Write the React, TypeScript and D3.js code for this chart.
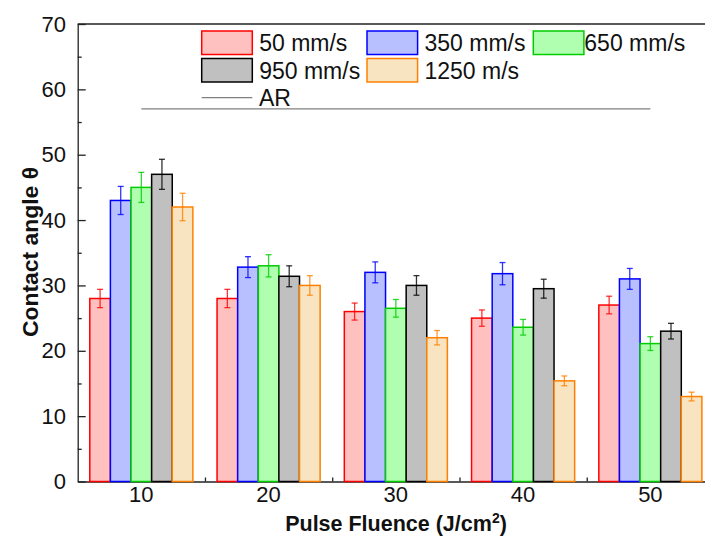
import React, { useRef, useEffect } from 'react';
import * as d3 from 'd3';

// Pulse fluence (J/cm2) categories
const fluences = [10, 20, 30, 40, 50];

const seriesNames = ['50 mm/s', '350 mm/s', '650 mm/s', '950 mm/s', '1250 m/s'];

// contact angle per scan speed, one value per fluence
const v50 = [28, 28, 26, 25, 27];
const v350 = [43, 32.8, 32, 31.8, 31];
const v650 = [45, 33, 26.5, 23.6, 21.1];
const v950 = [47, 31.4, 30, 29.5, 23];
const v1250 = [42, 30, 22, 15.4, 13];

const e50 = [1.4, 1.4, 1.3, 1.25, 1.35];
const e350 = [2.15, 1.6, 1.6, 1.7, 1.6];
const e650 = [2.3, 1.7, 1.35, 1.2, 1.05];
const e950 = [2.3, 1.6, 1.5, 1.45, 1.2];
const e1250 = [2.1, 1.5, 1.1, 0.75, 0.67];

const arValue = 57;

const yTicks = [0, 10, 20, 30, 40, 50, 60, 70];

const fills = ['#ffc0c0', '#b8c0ff', '#b0ffb0', '#c0c0c0', '#f8e4c0'];
const strokes = ['#ff0000', '#0000ff', '#00cc00', '#000000', '#ff8000'];

const App = () => {
  const svgRef = useRef(null);

  useEffect(() => {
    const width = 705;
    const height = 543;
    const svg = d3.select(svgRef.current);
    svg.selectAll('*').remove();
    svg.attr('width', width).attr('height', height).style('display', 'block').style('background', '#fff');

    const font = '"Liberation Sans", Arial, sans-serif';

    const x = d3.scaleLinear().domain([5, 55]).range([77.7, 714]);
    const y = d3.scaleLinear().domain([0, 70]).range([481.5, 24]);

    const values = [v50, v350, v650, v950, v1250];
    const errors = [e50, e350, e650, e950, e1250];
    const barW = 1.62; // in x units

    // bars
    values.forEach((vals, s) => {
      const g = svg.append('g');
      vals.forEach((v, i) => {
        const cx = fluences[i] + (s - 2) * barW;
        g.append('rect')
          .attr('x', x(cx - barW / 2))
          .attr('y', y(v))
          .attr('width', x(cx + barW / 2) - x(cx - barW / 2))
          .attr('height', y(0) - y(v))
          .attr('fill', fills[s])
          .attr('stroke', strokes[s])
          .attr('stroke-width', 1.5);
      });
    });

    // error bars
    values.forEach((vals, s) => {
      const g = svg.append('g').attr('stroke', strokes[s]).attr('stroke-width', 1.3).attr('stroke-opacity', 0.8);
      vals.forEach((v, i) => {
        const cx = x(fluences[i] + (s - 2) * barW);
        const top = y(v + errors[s][i]);
        const bot = y(v - errors[s][i]);
        g.append('line').attr('x1', cx).attr('x2', cx).attr('y1', top).attr('y2', bot);
        g.append('line').attr('x1', cx - 3).attr('x2', cx + 3).attr('y1', top).attr('y2', top);
        g.append('line').attr('x1', cx - 3).attr('x2', cx + 3).attr('y1', bot).attr('y2', bot);
      });
    });

    // AR reference line
    svg.append('line')
      .attr('x1', x(fluences[0])).attr('x2', x(fluences[fluences.length - 1]))
      .attr('y1', y(arValue)).attr('y2', y(arValue))
      .attr('stroke', '#808080').attr('stroke-width', 1.2);

    // frame: top line
    svg.append('line')
      .attr('x1', x(5)).attr('x2', x(55)).attr('y1', y(70)).attr('y2', y(70))
      .attr('stroke', '#222').attr('stroke-width', 1.3);

    // y axis (ticks inside)
    const yAxis = svg.append('g')
      .attr('transform', `translate(${x(5)},0)`)
      .call(d3.axisRight(y).tickValues(yTicks).tickSize(8).tickSizeOuter(0).tickFormat(() => ''));
    yAxis.select('.domain').attr('stroke', '#222').attr('stroke-width', 1.3);
    yAxis.selectAll('line').attr('stroke', '#222').attr('stroke-width', 1.3);
    svg.append('g')
      .attr('transform', `translate(${x(5)},0)`)
      .call(d3.axisRight(y).tickValues(d3.range(5, 70, 10)).tickSize(4).tickFormat(() => ''))
      .call(g => g.select('.domain').remove())
      .selectAll('line').attr('stroke', '#222').attr('stroke-width', 1.3);

    svg.append('g').selectAll('text').data(yTicks).join('text')
      .attr('x', 66).attr('y', d => y(d) + 7.7)
      .attr('text-anchor', 'end')
      .attr('font-family', font).attr('font-size', 22).attr('fill', '#111')
      .text(d => d);

    // x axis
    const xAxis = svg.append('g')
      .attr('transform', `translate(0,${y(0)})`)
      .call(d3.axisTop(x).tickValues(fluences).tickSize(8).tickSizeOuter(0).tickFormat(() => ''));
    xAxis.select('.domain').attr('stroke', '#222').attr('stroke-width', 1.3);
    xAxis.selectAll('line').attr('stroke', '#222').attr('stroke-width', 1.3);
    xAxis.lower();
    svg.append('g')
      .attr('transform', `translate(0,${y(0)})`)
      .call(d3.axisTop(x).tickValues([15, 25, 35, 45]).tickSize(4).tickFormat(() => ''))
      .call(g => g.select('.domain').remove())
      .selectAll('line').attr('stroke', '#222').attr('stroke-width', 1.3);

    svg.append('g').selectAll('text').data(fluences).join('text')
      .attr('x', d => x(d)).attr('y', 502)
      .attr('text-anchor', 'middle')
      .attr('font-family', font).attr('font-size', 22).attr('fill', '#111')
      .text(d => d);

    // axis titles
    const xt = svg.append('text')
      .attr('x', 396).attr('y', 531)
      .attr('text-anchor', 'middle')
      .attr('font-family', font).attr('font-size', 21.5).attr('font-weight', 'bold').attr('fill', '#111');
    xt.append('tspan').text('Pulse Fluence (J/cm');
    xt.append('tspan').attr('dy', -8).attr('font-size', 14).text('2');
    xt.append('tspan').attr('dy', 8).text(')');

    svg.append('text')
      .attr('transform', 'translate(38,252) rotate(-90)')
      .attr('text-anchor', 'middle')
      .attr('font-family', font).attr('font-size', 22).attr('font-weight', 'bold').attr('fill', '#111')
      .attr('textLength', 170).attr('lengthAdjust', 'spacingAndGlyphs')
      .text('Contact angle θ');

    // legend
    const legPos = [
      [201.7, 31], [367, 31], [533.3, 31],
      [201.7, 58.5], [367, 58.5],
    ];
    const leg = svg.append('g');
    seriesNames.forEach((name, s) => {
      const [lx, ly] = legPos[s];
      leg.append('rect')
        .attr('x', lx).attr('y', ly).attr('width', 50.6).attr('height', 23.5)
        .attr('fill', fills[s]).attr('stroke', strokes[s]).attr('stroke-width', 1.5);
      leg.append('text')
        .attr('x', s === 2 ? lx + 51 : lx + 57.5).attr('y', ly + 20)
        .attr('font-family', font).attr('font-size', 23).attr('fill', '#111')
        .text(name);
    });
    leg.append('line')
      .attr('x1', 201.7).attr('x2', 252.3).attr('y1', 97.7).attr('y2', 97.7)
      .attr('stroke', '#808080').attr('stroke-width', 1.2);
    leg.append('text')
      .attr('x', 259).attr('y', 105.5)
      .attr('font-family', font).attr('font-size', 23).attr('fill', '#111')
      .text('AR');
  }, []);

  return (
    <div style={{ position: 'absolute', left: 0, top: 0 }}>
      <svg ref={svgRef}></svg>
    </div>
  );
};

export default App;
